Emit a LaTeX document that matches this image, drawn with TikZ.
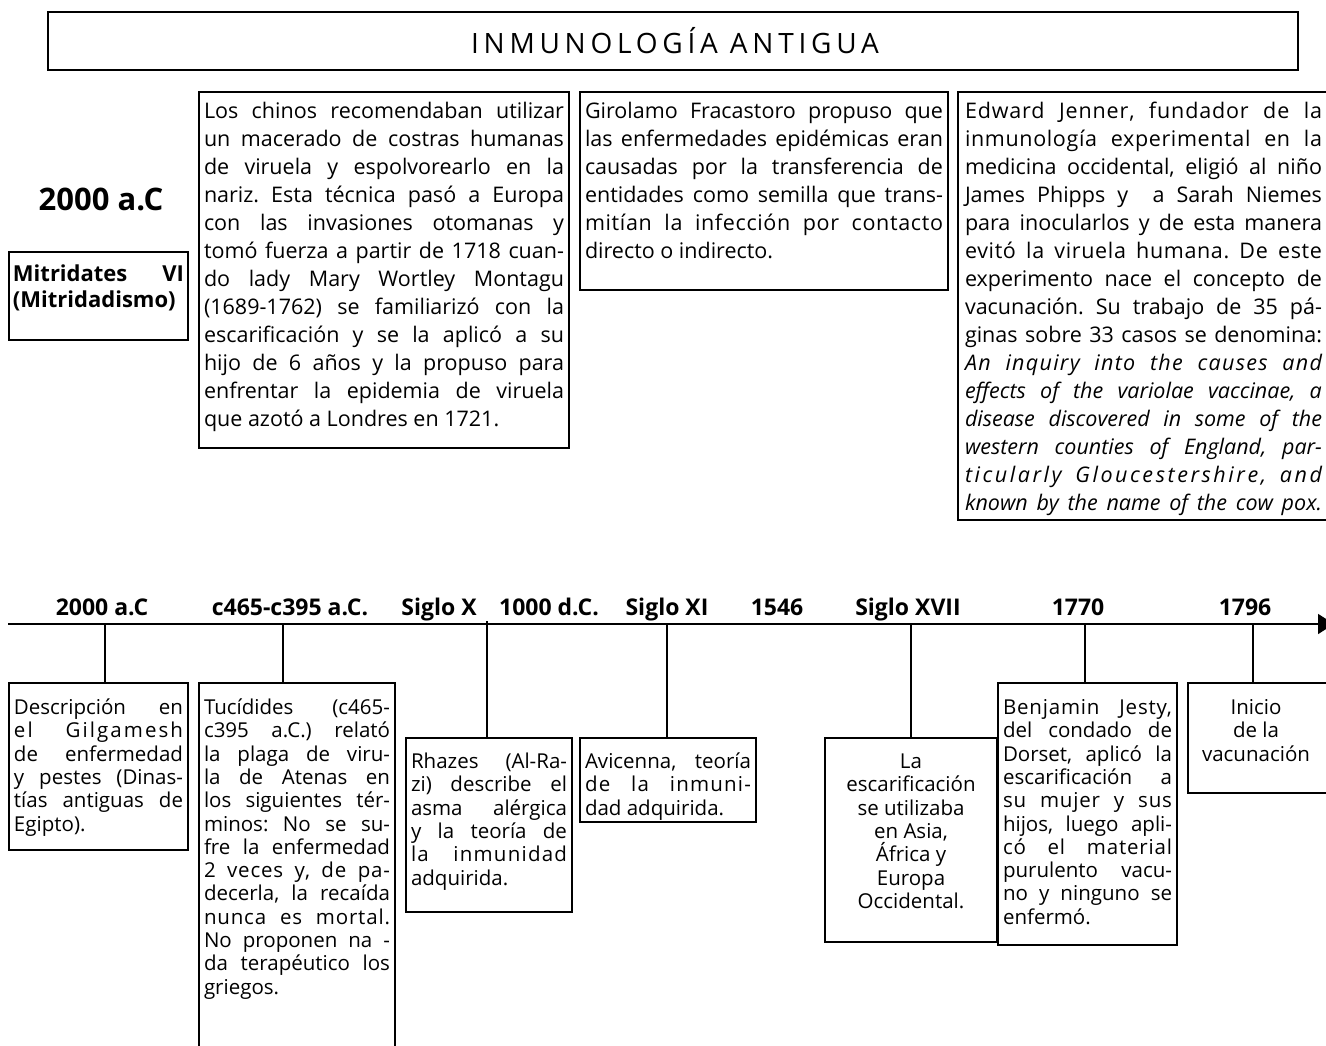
\documentclass[tikz,border=0pt]{standalone}
\usepackage{fontspec}
\setmainfont{Open Sans}
\usepackage{graphicx}
\usetikzlibrary{arrows.meta}
\newlength\jw
\newlength\padd
\newsavebox\jbox
\newcommand\fitline[2]{\sbox\jbox{#2}\ifdim\wd\jbox>\jw\resizebox{\jw}{\height}{\usebox\jbox}\else\makebox[\jw][#1]{#2}\fi}
\newcommand\J[1]{\hspace*{\padd}\fitline{s}{#1}\strut\par}
\newcommand\Js[2]{\J{\addfontfeature{LetterSpace=#1}#2}}
\newcommand\La[1]{\hspace*{\padd}\fitline{l}{#1}\strut\par}
\newcommand\Ce[1]{\hspace*{\padd}\fitline{c}{#1}\strut\par}
\newcommand\tb[7]{\parbox[c][#2pt][t]{#1pt}{\frenchspacing#4\setlength\padd{#5pt}\setlength\jw{#6pt}\lineskip=0pt\lineskiplimit=-100pt\parskip=0pt\parindent=0pt\vspace*{#3pt}#7}}
\begin{document}
\begin{tikzpicture}[x=1pt,y=-1pt,line width=1.6pt,
  frame/.style={draw,inner sep=0pt,outer sep=0pt,anchor=north west,line width=1.6pt},
  lab/.style={anchor=base,inner sep=0pt,font=\bfseries\fontsize{23}{26}\selectfont},
  tick/.style={line width=1.6pt}]
\useasboundingbox (0,0) rectangle (1326,1046);
% title
\node[frame,minimum width=1250,minimum height=58] (title) at (48,12) {};
\node[anchor=base,inner sep=0pt,font=\fontsize{28}{32}\selectfont\addfontfeature{LetterSpace=17}] (titletxt) at (675,54) {INMUNOLOGÍA ANTIGUA};
% left labels
\node[anchor=base,inner sep=0pt,font=\bfseries\fontsize{31}{34}\selectfont] (yr) at (101,211) {2000 a.C};
\node[frame] (mitri) at (9,252) {\tb{179}{88}{11.3}{\bfseries\fontsize{22}{26}\selectfont}{4}{171}{%
\J{Mitridates VI}
\J{(Mitridadismo)}}};
% top boxes
\def\topfont{\fontsize{21.5}{28}\selectfont}
\node[frame] (chinos) at (199,92) {\tb{370}{356}{6.9}{\topfont}{5}{360}{%
\J{Los chinos recomendaban utilizar}
\J{un macerado de costras humanas}
\J{de viruela y espolvorearlo en la}
\J{nariz. Esta técnica pasó a Europa}
\J{con las invasiones otomanas y}
\J{tomó fuerza a partir de 1718 cuan-}
\J{do lady Mary Wortley Montagu}
\J{(1689-1762) se familiarizó con la}
\J{escarificación y se la aplicó a su}
\J{hijo de 6 años y la propuso para}
\J{enfrentar la epidemia de viruela}
\La{que azotó a Londres en 1721.}}};
\node[frame] (giro) at (580,92) {\tb{368}{198}{6.9}{\topfont}{5}{358}{%
\J{Girolamo Fracastoro propuso que}
\J{las enfermedades epidémicas eran}
\J{causadas por la transferencia de}
\J{entidades como semilla que trans-}
\Js{3}{mitían la infección por contacto}
\La{directo o indirecto.}}};
\node[frame] (jenner) at (958,92) {\tb{380}{428}{6.9}{\topfont}{7}{357}{%
\Js{4}{Edward Jenner, fundador de la}
\Js{3}{inmunología experimental en la}
\J{medicina occidental, eligió al niño}
\J{James Phipps y \ a Sarah Niemes}
\J{para inocularlos y de esta manera}
\Js{3}{evitó la viruela humana. De este}
\J{experimento nace el concepto de}
\J{vacunación. Su trabajo de 35 pá-}
\J{ginas sobre 33 casos se denomina:}
\Js{6}{\itshape An inquiry into the causes and}
\J{\itshape effects of the variolae vaccinae, a}
\J{\itshape disease discovered in some of the}
\J{\itshape western counties of England, par-}
\Js{12}{\itshape ticularly Gloucestershire, and}
\J{\itshape known by the name of the cow pox.}}};
% timeline
\coordinate (tlA) at (8,624);
\coordinate (tlB) at (1334,624);
\draw[line width=1.6pt,-{Triangle[length=16pt,width=20pt]}] (tlA) -- (tlB);
\node[lab] (l1) at (102,615) {2000 a.C};
\node[lab] (l2) at (290,615) {c465-c395 a.C.};
\node[lab] (l3) at (439,615) {Siglo X};
\node[lab] (l4) at (549,615) {1000 d.C.};
\node[lab] (l5) at (667,615) {Siglo XI};
\node[lab] (l6) at (777,615) {1546};
\node[lab] (l7) at (908,615) {Siglo XVII};
\node[lab] (l8) at (1078,615) {1770};
\node[lab] (l9) at (1245,615) {1796};
% bottom boxes
\def\botfont{\fontsize{20.5}{23.3}\selectfont}
\node[frame] (desc) at (9,683) {\tb{179}{167}{15.2}{\botfont}{5}{169}{%
\J{Descripción en}
\Js{10}{el Gilgamesh}
\J{de enfermedad}
\J{y pestes (Dinas-}
\J{tías antiguas de}
\La{Egipto).}}};
\node[frame] (tuci) at (199,683) {\tb{196}{377}{15.2}{\botfont}{5}{186}{%
\J{Tucídides (c465-}
\J{c395 a.C.) relató}
\J{la plaga de viru-}
\J{la de Atenas en}
\J{los siguientes tér-}
\J{minos: No se su-}
\J{fre la enfermedad}
\Js{4}{2 veces y, de pa-}
\J{decerla, la recaída}
\Js{4}{nunca es mortal.}
\J{No proponen na -}
\J{da terapéutico los}
\La{griegos.}}};
\node[frame] (rhazes) at (406,738) {\tb{166}{174}{14.2}{\botfont}{5}{156}{%
\J{Rhazes (Al-Ra-}
\J{zi) describe el}
\J{asma alérgica}
\J{y la teoría de}
\Js{6}{la inmunidad}
\La{adquirida.}}};
\node[frame] (avic) at (580,738) {\tb{176}{84}{14.2}{\botfont}{5}{166}{%
\J{Avicenna, teoría}
\Js{6}{de la inmuni-}
\La{dad adquirida.}}};
\node[frame] (escar) at (825,738) {\tb{172}{204}{14.2}{\botfont}{3}{166}{%
\Ce{La}
\Ce{escarificación}
\Ce{se utilizaba}
\Ce{en Asia,}
\Ce{África y}
\Ce{Europa}
\Ce{Occidental.}}};
\node[frame] (jesty) at (998,683) {\tb{179}{262}{15.2}{\botfont}{5}{169}{%
\Js{4}{Benjamin Jesty,}
\J{del condado de}
\J{Dorset, aplicó la}
\J{escarificación a}
\Js{4}{su mujer y sus}
\J{hijos, luego apli-}
\Js{4}{có el material}
\J{purulento vacu-}
\J{no y ninguno se}
\La{enfermó.}}};
\node[frame] (inicio) at (1188,683) {\tb{150}{110}{15.2}{\botfont}{2}{132}{%
\Ce{Inicio}
\Ce{de la}
\Ce{vacunación}}};
% ticks
\coordinate (k1) at (105,624);
\coordinate (k2) at (283,624);
\coordinate (k3) at (487,621);
\coordinate (k4) at (667,624);
\coordinate (k5) at (911,624);
\coordinate (k6) at (1085,624);
\coordinate (k7) at (1253,624);
\draw[tick] (k1) -- (k1 |- desc.north);
\draw[tick] (k2) -- (k2 |- tuci.north);
\draw[tick] (k3) -- (k3 |- rhazes.north);
\draw[tick] (k4) -- (k4 |- avic.north);
\draw[tick] (k5) -- (k5 |- escar.north);
\draw[tick] (k6) -- (k6 |- jesty.north);
\draw[tick] (k7) -- (k7 |- inicio.north);
\end{tikzpicture}
\end{document}
